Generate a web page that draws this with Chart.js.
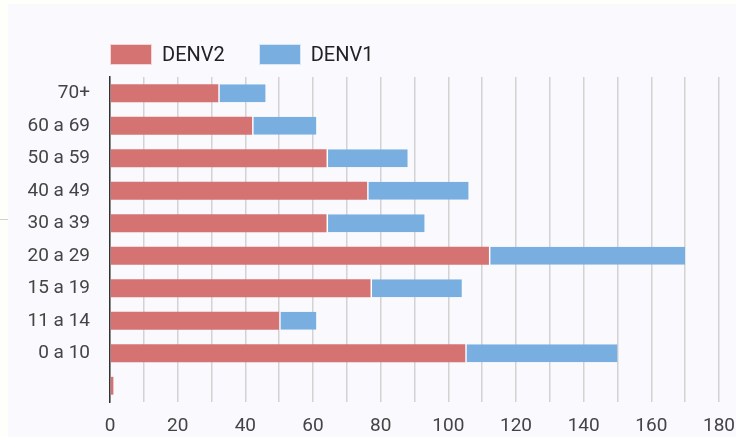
<!DOCTYPE html>
<html>
<head>
<meta charset="utf-8">
<script src="https://cdn.jsdelivr.net/npm/chart.js@4.4.1/dist/chart.umd.min.js"></script>
<style>
  html, body { margin: 0; padding: 0; }
  body { width: 736px; height: 437px; background: #fefefa; position: relative; overflow: hidden; font-family: Roboto, sans-serif; }
  #panel { position: absolute; left: 8px; top: 4px; width: 728px; height: 433px; background: #f9f9fe; }
  #wrap { position: absolute; left: 0; top: 0; width: 728px; height: 433px; }
  #tick { position: absolute; left: 0; top: 219px; width: 8px; height: 1px; background: #cfcfcf; }
  #legend { position: absolute; left: 110px; top: 42px; display: flex; align-items: center; font-family: Roboto, sans-serif; font-size: 20px; color: #222; }
  .item { display: flex; align-items: center; margin-right: 34px; }
  .box { width: 42px; height: 21px; margin-right: 10px; box-sizing: border-box; border: 1px solid rgba(255,255,255,0.7); }
</style>
</head>
<body>
<div id="tick"></div>
<div id="panel"><div id="wrap"><canvas id="c" width="728" height="433"></canvas></div></div>
<div id="legend"></div>
<script>
const categories = ['70+', '60 a 69', '50 a 59', '40 a 49', '30 a 39', '20 a 29', '15 a 19', '11 a 14', '0 a 10', ''];
const denv2 = [32, 42, 64, 76, 64, 112, 77, 50, 105, 1];
const denv1 = [14, 19, 24, 30, 29, 58, 27, 11, 45, 0];
const seriesNames = ['DENV2', 'DENV1'];
const seriesColors = ['#d47371', '#79afe0'];
const xMax = 180;
const xStep = 10;
const xLabelEvery = 20;

const legend = document.getElementById('legend');
seriesNames.forEach((n, i) => {
  const it = document.createElement('div');
  it.className = 'item';
  const b = document.createElement('div');
  b.className = 'box';
  b.style.background = seriesColors[i];
  const t = document.createElement('span');
  t.textContent = n;
  it.appendChild(b); it.appendChild(t);
  legend.appendChild(it);
});

new Chart(document.getElementById('c'), {
  type: 'bar',
  data: {
    labels: categories,
    datasets: [
      { label: seriesNames[0], data: denv2, backgroundColor: seriesColors[0], borderWidth: 0, barPercentage: 0.55, categoryPercentage: 1 },
      { label: seriesNames[1], data: denv1, backgroundColor: seriesColors[1], borderColor: 'rgba(255,255,255,0.75)', borderWidth: { top: 0, bottom: 0, left: 1.5, right: 0 }, borderSkipped: false, barPercentage: 0.55, categoryPercentage: 1 }
    ]
  },
  options: {
    indexAxis: 'y',
    responsive: false,
    animation: false,
    layout: { padding: { top: 73, right: 17, bottom: 0, left: 0 } },
    plugins: { legend: { display: false }, tooltip: { enabled: false } },
    scales: {
      x: {
        stacked: true,
        min: 0, max: xMax,
        afterFit: s => { s.height = 35; s.paddingRight = 0; s.paddingLeft = 0; },
        ticks: {
          stepSize: xStep,
          autoSkip: false,
          maxRotation: 0,
          padding: 13,
          color: '#444',
          font: { family: 'Roboto', size: 19 },
          callback: v => (v % xLabelEvery === 0 ? String(v) : '')
        },
        grid: { color: '#d3d3d3', lineWidth: 1.5, drawTicks: false },
        border: { display: false }
      },
      y: {
        stacked: true,
        afterFit: s => { s.width = 102; },
        ticks: { padding: 20, color: '#444', font: { family: 'Roboto', size: 19 } },
        grid: { display: false, drawTicks: false },
        border: { display: true, color: '#333', width: 1.5 }
      }
    }
  }
});
</script>
</body>
</html>
